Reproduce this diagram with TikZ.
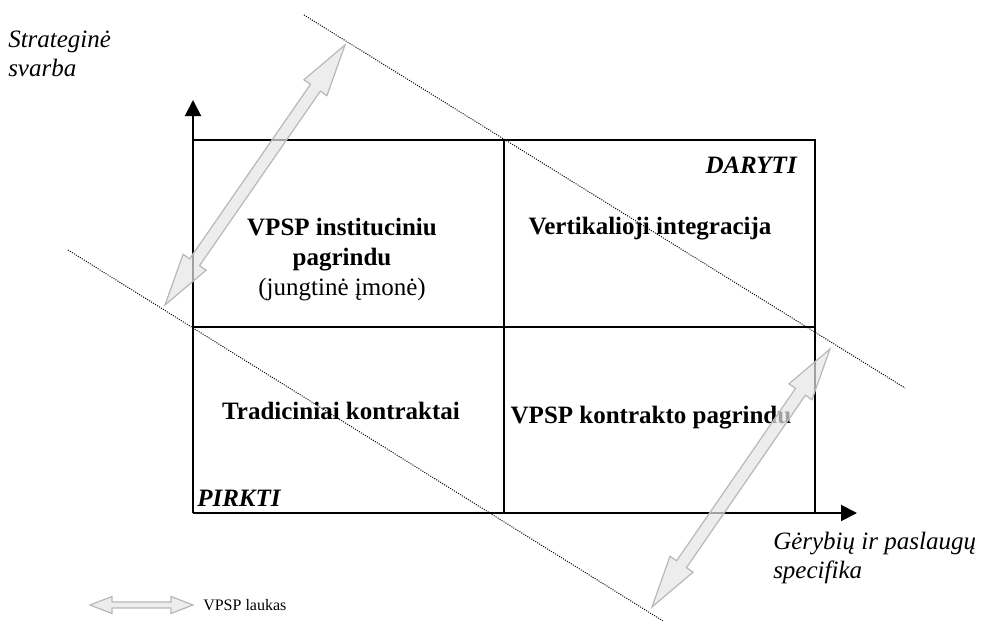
\documentclass[tikz,border=0pt]{standalone}
\usepackage{fontspec}
\setmainfont{Liberation Serif}
\usetikzlibrary{calc,arrows.meta}
\newcommand\blockarr[5]{%
  \draw[blockarrow] (#1) -- ($(#1)!#3!(#2)!#4!90:(#2)$) -- ($(#1)!#3!(#2)!#5!90:(#2)$)
    -- ($(#2)!#3!(#1)!#5!-90:(#1)$) -- ($(#2)!#3!(#1)!#4!-90:(#1)$) -- (#2)
    -- ($(#2)!#3!(#1)!#4!90:(#1)$) -- ($(#2)!#3!(#1)!#5!90:(#1)$)
    -- ($(#1)!#3!(#2)!#5!-90:(#2)$) -- ($(#1)!#3!(#2)!#4!-90:(#2)$) -- cycle;}
\begin{document}
\begin{tikzpicture}[x=0.75pt,y=-0.75pt,
  frame/.style={line width=1.5pt},
  axis/.style={line width=1.5pt,-{Triangle[length=12pt,width=12pt]}},
  guide/.style={densely dotted,line width=0.75pt},
  blockarrow/.style={draw=black!28,fill=black!10,fill opacity=0.7,line width=0.9pt,line join=miter},
  big/.style={font=\fontsize{18.75}{22.5}\selectfont\bfseries,align=center,inner sep=0pt},
  lab/.style={font=\fontsize{18.75}{21.5}\selectfont\itshape,align=left,inner sep=0pt},
  corner/.style={font=\fontsize{18.75}{21.75}\selectfont\bfseries\itshape,inner sep=0pt},
  legend/.style={font=\fontsize{12}{14}\selectfont,inner sep=0pt}]
\useasboundingbox (0,0) rectangle (983,621);
% box corners
\coordinate (o) at (193,513);
\coordinate (tl) at (193,140);
\coordinate (tm) at (504,140);
\coordinate (tr) at (815,140);
\coordinate (ml) at (193,327);
\coordinate (mr) at (815,327);
\coordinate (bm) at (504,513);
\coordinate (br) at (815,513);
\coordinate (ytip) at (193,100);
\coordinate (xtip) at (857,513);
% guide lines
\coordinate (g1a) at (304,15);
\coordinate (g1b) at (905,388);
\coordinate (g2a) at (68,250);
\coordinate (g2b) at (663,621);
\draw[guide] (g1a) -- (g1b);
\draw[guide] (g2a) -- (g2b);
% frame
\draw[frame] (tl) -- (tr) -- (br);
\draw[frame] (tm) -- (bm);
\draw[frame] (ml) -- (mr);
\draw[axis] (o) -- (ytip);
\draw[axis] (o) -- (xtip);
% texts
\node[big] (c1) at (342,260) {VPSP instituciniu\\pagrindu\\{\mdseries(jungtinė įmonė)}};
\node[big] (c2) at (650,229) {Vertikalioji integracija};
\node[big] (c3) at (341,411) {Tradiciniai kontraktai};
\node[big] (c4) at (651,418) {VPSP kontrakto pagrindu};
\node[corner,anchor=east] (daryti) at (797,165) {DARYTI};
\node[corner,anchor=west] (pirkti) at (197,498) {PIRKTI};
\node[lab,anchor=west] (ylab) at (8,54) {Strateginė\\svarba};
\node[lab,anchor=west] (xlab) at (773,558) {Gėrybių ir paslaugų\\specifika};
% block arrows
\coordinate (a1) at (165,305);
\coordinate (a2) at (345,45);
\coordinate (b1) at (652,607);
\coordinate (b2) at (830,349);
\blockarr{a1}{a2}{39pt}{10.5pt}{4.5pt}
\blockarr{b1}{b2}{39pt}{10.5pt}{4.5pt}
% legend
\coordinate (l1) at (90,605);
\coordinate (l2) at (193,605);
\blockarr{l1}{l2}{16.5pt}{6.4pt}{2.3pt}
\node[legend,anchor=west] (legtext) at (203,605) {VPSP laukas};
\end{tikzpicture}
\end{document}
